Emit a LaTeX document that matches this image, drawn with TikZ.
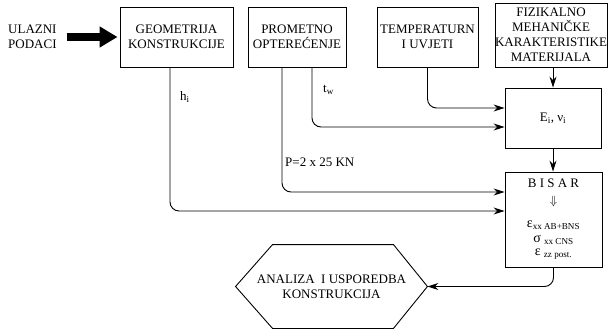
\documentclass[tikz,border=0pt]{standalone}
\usepackage{fontspec}
\setmainfont{Liberation Serif}
\usetikzlibrary{arrows.meta}

\begin{document}
\begin{tikzpicture}[x=1pt,y=-1pt,%
% common options for boxes:
box/.style = {draw, line width=0.9pt, align=center, inner sep=0,
            font=\fontsize{13}{15}\selectfont},
% common options for the connectors:
link/.style = {draw, line width=0.9pt, rounded corners=9pt,
            -{Stealth[length=11pt,width=7pt]}},
% common options for the labels:
tag/.style = {anchor=west, inner sep=0, font=\fontsize{13}{15}\selectfont}]
\useasboundingbox (0,0) rectangle (610,329);
\node[tag,align=left] (ulaz) at (8,37) {ULAZNI\\PODACI};
\node[box,minimum width=113pt,minimum height=60pt] (geo) at (176.5,37) {GEOMETRIJA\\KONSTRUKCIJE};
\node[box,minimum width=98pt,minimum height=60pt] (prom) at (297,37) {PROMETNO\\OPTEREĆENJE};
\node[box,minimum width=101pt,minimum height=60pt] (temp) at (427.5,37) {TEMPERATURN\\I UVJETI};
\node[box,minimum width=112pt,minimum height=64pt] (fiz) at (551,35) {FIZIKALNO\\MEHANIČKE\\KARAKTERISTIKE\\MATERIJALA};
\node[box,minimum width=96pt,minimum height=60pt] (emod) at (553,118) {E\textsubscript{i}, ν\textsubscript{i}};
\node[box,minimum width=97pt,minimum height=95pt] (bisar) at (553.5,219.5) {B I S A R\\[2pt]
  $\Downarrow$\\[8pt] {\fontsize{14}{15}\selectfont ε}\textsubscript{xx AB+BNS}\\
  {\fontsize{14}{15}\selectfont σ} \textsubscript{xx CNS}\\[-2pt]
  {\fontsize{14}{15}\selectfont ε} \textsubscript{zz post.}};
\node[box,draw=none,minimum width=191pt,minimum height=83pt] (hex) at (331.5,286.5) {ANALIZA\ \ I USPOREDBA\\KONSTRUKCIJA};
\draw[line width=0.9pt] (hex.west) -- ([xshift=37pt]hex.north west) -- ([xshift=-34pt]hex.north east)
  -- (hex.east) -- ([xshift=-34pt]hex.south east) -- ([xshift=37pt]hex.south west) -- cycle;
\node[tag] (hlab) at (180,97) {h\textsubscript{i}};
\node[tag] (tlab) at (323,90) {t\textsubscript{w}};
\node[tag] (plab) at (285,162) {P=2 x 25 KN};
\draw[line width=8pt,-{Triangle[length=18pt,width=20pt]}] ([xshift=10pt]ulaz.east) -- ([xshift=-2pt]geo.west);
\draw[link] ([xshift=-6.5pt]geo.south) |- ([yshift=8.5pt]bisar.west);
\draw[link] ([xshift=-15pt]prom.south) |- ([yshift=27.5pt]bisar.west);
\draw[link] ([xshift=15pt]prom.south) |- ([yshift=-9pt]emod.west);
\draw[link] (temp.south) |- ([yshift=10pt]emod.west);
\draw[link] (emod.north |- fiz.south) -- (emod.north);
\draw[link] (emod.south) -- (emod.south |- bisar.north);
\draw[link] (bisar.south) |- (hex.east);
\end{tikzpicture}
\end{document}
